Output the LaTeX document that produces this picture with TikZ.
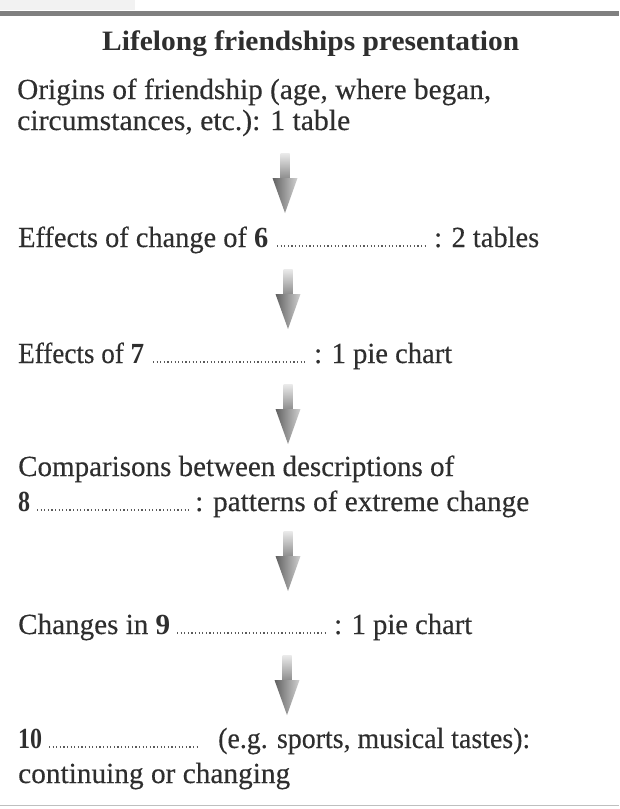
\documentclass[tikz,border=0pt]{standalone}
\usepackage{fontspec}
\setmainfont{Liberation Serif}[UprightFeatures={FakeBold=0.3}]
\usepackage{graphicx}
\definecolor{ink}{HTML}{2E2E2E}
\definecolor{dotc}{HTML}{5A5A5A}
\newcommand\fitw[2]{\resizebox{#1pt}{1.08\height}{#2}}
\tikzset{
  txt/.style={anchor=base west, inner sep=0pt, text=ink, font=\fontsize{27}{30}\selectfont},
  ttl/.style={anchor=base west, inner sep=0pt, text=ink, font=\fontsize{26}{30}\selectfont\bfseries},
  leader/.style={draw=dotc, line width=1.5pt, dash pattern=on 1.2pt off 2.4pt},
  shaftshade/.style={top color=black!8, bottom color=black!45, draw=none},
  headshade/.style={left color=black!62, right color=black!18, draw=none},
}
\newcommand\downarrowat[2]{% #1 = centre x, #2 = top y
  \path[shaftshade] (#1-4.5,#2) rectangle (#1+4.5,#2+25.5);
  \path[headshade] (#1+12.5,#2+25) -- (#1,#2+60) -- (#1-12.5,#2+25) -- cycle;
}
\begin{document}
\begin{tikzpicture}[x=1pt, y=-1pt]
\useasboundingbox (0,0) rectangle (619,809);
\fill[white] (0,0) rectangle (619,809);
% frame lines
\fill[black!5] (0,0) rectangle (135,10);
\fill[black!50] (0,11) rectangle (619,16);
\draw[black!25, line width=1.2pt] (0,805.5) -- (619,805.5);

% title
\node[ttl] (title) at (102,50) {\fitw{417}{Lifelong friendships presentation}};

% stage 1
\node[txt] (s1a) at (17,99) {\fitw{474}{Origins of friendship (age, where began,}};
\node[txt] (s1b) at (17,130) {\fitw{333}{circumstances, etc.): 1 table}};
\downarrowat{285}{153}

% stage 2
\node[txt] (s2a) at (18,247) {\fitw{250}{Effects of change of \textbf{6}}};
\coordinate (d2a) at (277,246);
\coordinate (d2b) at (428,246);
\draw[leader] (d2a) -- (d2b);
\node[txt] (s2b) at (434,247) {\fitw{105}{: 2 tables}};
\downarrowat{288}{269}

% stage 3
\node[txt] (s3a) at (18,363) {\fitw{126}{Effects of \textbf{7}}};
\coordinate (d3a) at (153,362);
\coordinate (d3b) at (306,362);
\draw[leader] (d3a) -- (d3b);
\node[txt] (s3b) at (314,363) {\fitw{138}{: 1 pie chart}};
\downarrowat{288}{384}

% stage 4
\node[txt] (s4a) at (18,476) {\fitw{436}{Comparisons between descriptions of}};
\node[txt] (s4b) at (18,511) {\fitw{12}{\textbf{8}}};
\coordinate (d4a) at (37,510);
\coordinate (d4b) at (190,510);
\draw[leader] (d4a) -- (d4b);
\node[txt] (s4c) at (195,511) {\fitw{334}{: patterns of extreme change}};
\downarrowat{288}{531}

% stage 5
\node[txt] (s5a) at (18,634) {\fitw{152}{Changes in \textbf{9}}};
\coordinate (d5a) at (177,633);
\coordinate (d5b) at (328,633);
\draw[leader] (d5a) -- (d5b);
\node[txt] (s5b) at (334,634) {\fitw{138}{: 1 pie chart}};
\downarrowat{287}{655}

% stage 6
\node[txt] (s6a) at (18,748) {\fitw{24}{\textbf{10}}};
\coordinate (d6a) at (49,747);
\coordinate (d6b) at (200,747);
\draw[leader] (d6a) -- (d6b);
\node[txt] (s6b) at (218,748) {\fitw{312}{(e.g. sports, musical tastes):}};
\node[txt] (s6c) at (18,783) {\fitw{272}{continuing or changing}};
\end{tikzpicture}
\end{document}
